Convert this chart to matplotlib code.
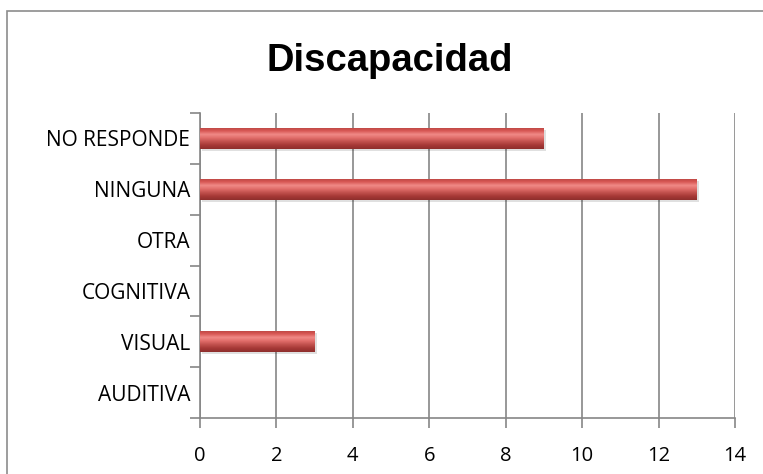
import numpy as np
import matplotlib
matplotlib.use("Agg")
import matplotlib.pyplot as plt
from matplotlib.patches import Rectangle
from matplotlib.colors import LinearSegmentedColormap

plt.rcParams['font.family'] = ['Open Sans', 'Liberation Sans', 'DejaVu Sans']

categories = ["AUDITIVA", "VISUAL", "COGNITIVA", "OTRA", "NINGUNA", "NO RESPONDE"]
values = [0, 3, 0, 0, 13, 9]
x_ticks = [0, 2, 4, 6, 8, 10, 12, 14]
title = "Discapacidad"

fig = plt.figure(figsize=(7.63, 4.74), dpi=100)
fig.patch.set_facecolor("white")

# outer chart frame
fig.patches.append(Rectangle((7 / 763, -0.2), 1.2, 0.2 + 1 - 11 / 474,
                             transform=fig.transFigure, fill=False,
                             edgecolor="#8c8c8c", linewidth=1.2))

ax = fig.add_axes([200 / 763, 1 - 418 / 474, 535 / 763, 305 / 474])
y = np.arange(len(categories))
bar_h = 0.42

# shadow under each bar
ax.barh(y - 0.04, values, height=bar_h, left=0.05, color="#000000",
        alpha=0.12, zorder=2, linewidth=0)
bars = ax.barh(y, values, height=bar_h, color="#c0504d", zorder=3, linewidth=0)

# vertical shading for a rounded, glossy look
shade = LinearSegmentedColormap.from_list(
    "shade", ["#8e2f2d", "#a63836", "#c0504d", "#e06c69", "#f08a87", "#d85855", "#b84441"])
grad = np.linspace(0, 1, 64).reshape(-1, 1)
for b in bars:
    if b.get_width() <= 0:
        continue
    x0, y0 = b.get_x(), b.get_y()
    w, h = b.get_width(), b.get_height()
    im = ax.imshow(grad, cmap=shade, aspect="auto", origin="lower",
                   extent=[x0, x0 + w, y0, y0 + h], zorder=4, interpolation="bilinear")
    im.set_clip_path(b)

ax.set_xlim(0, 14)
ax.set_ylim(-0.5, len(categories) - 0.5)
ax.set_xticks(x_ticks)
ax.set_xticklabels([str(t) for t in x_ticks], fontsize=14.5)
ax.set_yticks(y)
ax.set_yticklabels(categories, fontsize=15)
ax.set_yticks(np.arange(-0.5, len(categories)), minor=True)
ax.tick_params(axis="y", which="major", length=0, pad=7)
ax.tick_params(axis="y", which="minor", length=7, color="#868686", width=1.2, direction="out")
ax.tick_params(axis="x", which="major", length=7, color="#868686", width=1.2, direction="out", pad=13)

ax.grid(axis="x", color="#868686", linewidth=1.2, zorder=0)
ax.set_axisbelow(True)
for s in ["top", "right"]:
    ax.spines[s].set_visible(False)
for s in ["left", "bottom"]:
    ax.spines[s].set_color("#868686")
    ax.spines[s].set_linewidth(1.2)

fig.text(390 / 763, 1 - 71 / 474, title, ha="center", va="baseline",
         fontsize=27.5, fontweight="bold", family=["Liberation Sans", "DejaVu Sans"])

fig.savefig("out.png", dpi=100)
